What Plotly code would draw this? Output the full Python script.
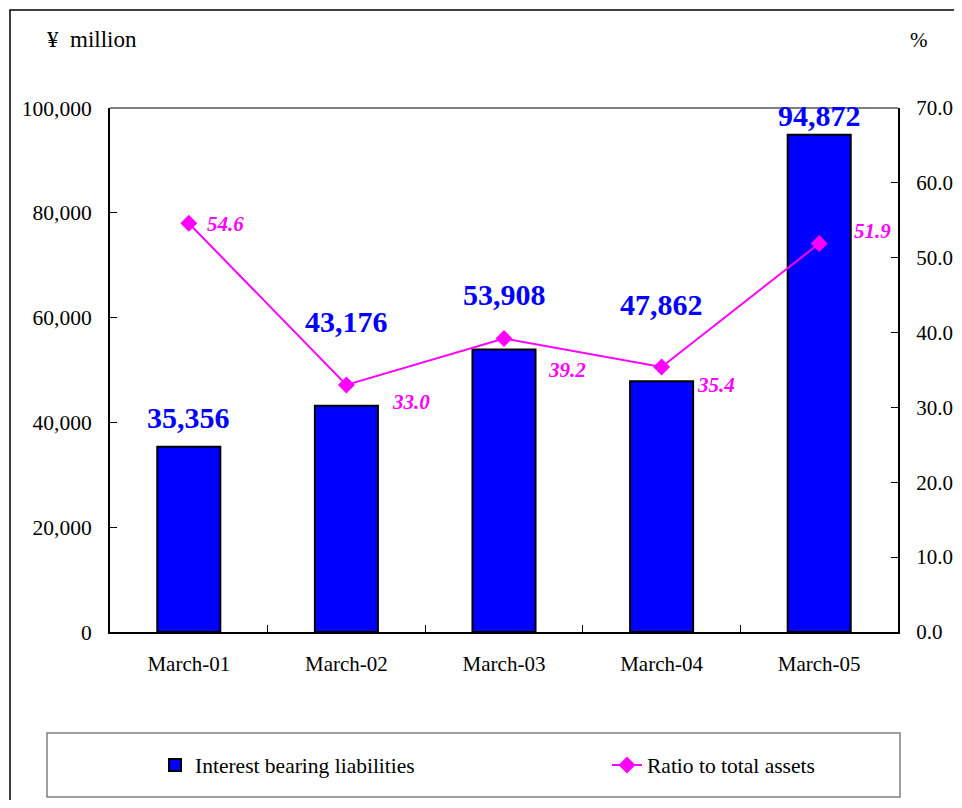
import plotly.graph_objects as go

categories = ["March-01", "March-02", "March-03", "March-04", "March-05"]
liabilities = [35356, 43176, 53908, 47862, 94872]
ratio = [54.6, 33.0, 39.2, 35.4, 51.9]
left_ticks = [0, 20000, 40000, 60000, 80000, 100000]
right_ticks = [0, 10, 20, 30, 40, 50, 60, 70]

# label placement offsets (px)
bar_label_shift = [29, 84, 55, 77, 19]
ratio_label_dx = [16, 44, 42, 33, 33]
ratio_label_dy = [-1, -17, -31, -18, 12]

FONT = "Liberation Serif, Times New Roman, serif"
OFF = 8  # page body margin
W, H = 962 - 2 * OFF, 808 - 2 * OFF
PL, PR, PT, PB = 110 - OFF, 898 - OFF, 108 - OFF, 632 - OFF
L, R, T, B = PL, W - PR, PT, H - PB
PW, PH = PR - PL, PB - PT

def px_x(x):
    return (x - OFF - PL) / PW

def px_y(y):
    return (PB - (y - OFF)) / PH

fig = go.Figure()
fig.add_trace(go.Bar(
    x=categories, y=liabilities, name="Interest bearing liabilities",
    marker=dict(color="#0000FF", line=dict(color="#000000", width=2)),
    width=0.4, yaxis="y", legend="legend",
))
fig.add_trace(go.Scatter(
    x=categories, y=ratio, name="Ratio to total assets", mode="lines+markers",
    line=dict(color="#FF00FF", width=2),
    marker=dict(symbol="diamond", size=13, color="#FF00FF"),
    yaxis="y2", legend="legend2",
))

ann = []
for c, v, s in zip(categories, liabilities, bar_label_shift):
    ann.append(dict(x=c, y=v, xref="x", yref="y", text=f"{v:,}", showarrow=False,
                    yshift=s, xanchor="center", yanchor="middle",
                    font=dict(family=FONT, size=30, color="#0000FF", weight="bold")))
for c, v, dx, dy in zip(categories, ratio, ratio_label_dx, ratio_label_dy):
    ann.append(dict(x=c, y=v, xref="x", yref="y2", text=f"<i>{v:.1f}</i>", showarrow=False,
                    xshift=dx, yshift=dy, xanchor="left", yanchor="middle",
                    font=dict(family=FONT, size=21, color="#FF00FF", weight="bold")))
ann.append(dict(x=px_x(45), y=px_y(40), xref="paper", yref="paper", text="¥  million",
                showarrow=False, xanchor="left", yanchor="middle",
                font=dict(family=FONT, size=23, color="#000000")))
ann.append(dict(x=px_x(919), y=px_y(40), xref="paper", yref="paper", text="%",
                showarrow=False, xanchor="center", yanchor="middle",
                font=dict(family=FONT, size=21, color="#000000")))

shapes = [
    # outer chart border
    dict(type="rect", xref="paper", yref="paper", x0=px_x(10), y0=px_y(10),
         x1=px_x(985), y1=px_y(830), line=dict(color="#000000", width=1.5), layer="below"),
    # legend box
    dict(type="rect", xref="paper", yref="paper", x0=px_x(47), y0=px_y(733),
         x1=px_x(900), y1=px_y(797), line=dict(color="#808080", width=1.5)),
    # plot area top border
    dict(type="line", xref="paper", yref="paper", x0=0, x1=1, y0=1, y1=1,
         line=dict(color="#808080", width=2)),
]

legend_common = dict(orientation="h", xanchor="left", yanchor="middle",
                     font=dict(family=FONT, size=21.5, color="#000000"),
                     bgcolor="rgba(0,0,0,0)", borderwidth=0)

fig.update_layout(
    width=W, height=H,
    margin=dict(l=L, r=R, t=T, b=B, pad=0, autoexpand=False),
    paper_bgcolor="white", plot_bgcolor="white",
    font=dict(family=FONT, size=21, color="#000000"),
    showlegend=True,
    legend=dict(x=px_x(155), y=px_y(765), **legend_common),
    legend2=dict(x=px_x(607), y=px_y(765), **legend_common),
    xaxis=dict(showgrid=False, showline=True, linecolor="#000000", linewidth=2,
               ticks="inside", tickson="boundaries", ticklen=7, tickcolor="#000000",
               tickfont=dict(family=FONT, size=21, color="#000000"),
               ticklabelstandoff=12, zeroline=False, automargin=False),
    yaxis=dict(range=[0, 100000], tickvals=left_ticks, tickformat=",", showgrid=False,
               showline=True, linecolor="#000000", linewidth=2, ticks="inside",
               ticklen=7, tickcolor="#000000", zeroline=False, automargin=False,
               tickfont=dict(family=FONT, size=21.5, color="#000000"),
               ticklabelstandoff=12),
    yaxis2=dict(range=[0, 70], tickvals=right_ticks, tickformat=".1f", overlaying="y",
                side="right", showgrid=False, showline=True, linecolor="#000000",
                linewidth=2, ticks="inside", ticklen=7, tickcolor="#000000",
                zeroline=False, automargin=False,
                tickfont=dict(family=FONT, size=21, color="#000000"),
                ticklabelstandoff=12),
    annotations=ann, shapes=shapes,
)

fig.write_html("out.html")
